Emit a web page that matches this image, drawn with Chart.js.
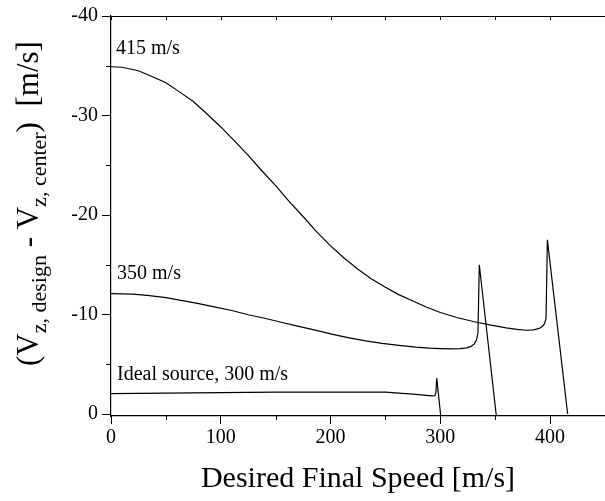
<!DOCTYPE html>
<html>
<head>
<meta charset="utf-8">
<script src="https://cdn.jsdelivr.net/npm/chart.js@4/dist/chart.umd.min.js"></script>
<style>
  html, body { margin: 0; padding: 0; background: #fff; }
  #wrap { width: 605px; height: 501px; }
</style>
</head>
<body>
<div id="wrap"><canvas id="c"></canvas></div>
<script>
// values (x: desired final speed, y: velocity difference)
const x415 = [0, 10, 25, 40, 50, 62, 75, 87, 100, 112, 125, 137, 150, 162, 175, 187, 200, 212, 225, 237, 250, 262, 275, 287, 300, 315, 330, 345, 360, 370, 378, 385, 390, 393, 395, 396.3, 397.5, 416];
const y415 = [-34.9, -34.85, -34.5, -33.8, -33.3, -32.4, -31.4, -30.2, -28.85, -27.5, -26.0, -24.5, -22.95, -21.4, -19.85, -18.35, -16.9, -15.7, -14.55, -13.6, -12.75, -12.0, -11.35, -10.75, -10.2, -9.7, -9.3, -8.95, -8.65, -8.5, -8.42, -8.45, -8.6, -8.8, -9.1, -9.6, -17.5, 0];

const x350 = [0, 20, 35, 50, 65, 80, 95, 110, 126, 141, 156, 171, 187, 202, 217, 232, 247, 262, 278, 290, 300, 310, 318, 324, 328, 331, 333, 334.3, 335.5, 351];
const y350 = [-12.1, -12.05, -11.9, -11.7, -11.4, -11.1, -10.75, -10.4, -9.95, -9.6, -9.2, -8.8, -8.4, -8.0, -7.65, -7.35, -7.1, -6.9, -6.72, -6.63, -6.58, -6.55, -6.57, -6.65, -6.8, -7.05, -7.45, -8.2, -15, 0.2];

const x300 = [0, 50, 100, 150, 200, 250, 262, 275, 285, 292, 295, 296, 296.7, 300.5];
const y300 = [-2.05, -2.1, -2.15, -2.2, -2.2, -2.2, -2.1, -2.0, -1.9, -1.82, -1.85, -2.2, -3.6, 0.3];

const xTicks = [0, 100, 200, 300, 400];
const yTicks = [-40, -30, -20, -10, 0];
const xMinor = [50, 150, 250, 350];
const yMinor = [-35, -25, -15, -5];

const labelText = ['415 m/s', '350 m/s', 'Ideal source, 300 m/s'];
const labelX = [4.5, 5.5, 5.5];
const labelY = [-36.2, -13.6, -3.4];

const serif = '"Liberation Serif", "DejaVu Serif", serif';
const pts = (xs, ys) => xs.map((v, i) => ({ x: v, y: ys[i] }));

function line(data) {
  return {
    data, showLine: true, borderColor: '#000', borderWidth: 1.2,
    pointRadius: 0, tension: 0, fill: false
  };
}

// minor ticks, top frame, curve labels and the y title with subscripts
const decor = {
  id: 'decor',
  afterDraw(chart) {
    const { ctx, chartArea: a, scales: { x, y } } = chart;
    ctx.save();
    ctx.strokeStyle = '#000';
    ctx.lineWidth = 1.2;
    ctx.beginPath();
    ctx.moveTo(a.left, a.top + 0.5);
    ctx.lineTo(a.right, a.top + 0.5);
    ctx.stroke();
    ctx.lineWidth = 1;
    ctx.beginPath();
    for (let v = 0; v < 450; v += 50) {
      const px = Math.round(x.getPixelForValue(v)) + 0.5;
      ctx.moveTo(px, a.top); ctx.lineTo(px, a.top + 4);
    }
    xMinor.forEach(v => {
      const px = Math.round(x.getPixelForValue(v)) + 0.5;
      ctx.moveTo(px, a.bottom); ctx.lineTo(px, a.bottom + 4);
    });
    yMinor.forEach(v => {
      const py = Math.round(y.getPixelForValue(v)) + 0.5;
      ctx.moveTo(a.left, py); ctx.lineTo(a.left - 5, py);
    });
    ctx.stroke();

    ctx.fillStyle = '#000';
    ctx.font = '20px ' + serif;
    ctx.textAlign = 'left';
    ctx.textBaseline = 'alphabetic';
    labelText.forEach((t, i) => {
      ctx.fillText(t, x.getPixelForValue(labelX[i]), y.getPixelForValue(labelY[i]));
    });

    // y axis title, rotated, with subscripts
    const big = '31px ' + serif, small = '22px ' + serif;
    const parts = [
      ['(V', big, 0], ['z, design', small, 8], [' - V', big, 0],
      ['z, center', small, 8], [')', big, 0], ['  [m/s]', big, 0]
    ];
    ctx.translate(38, 366);
    ctx.rotate(-Math.PI / 2);
    let pos = 0;
    parts.forEach(([t, f, dy]) => {
      ctx.font = f;
      ctx.fillText(t, pos, dy);
      pos += ctx.measureText(t).width;
    });
    ctx.restore();
  }
};

new Chart(document.getElementById('c'), {
  type: 'scatter',
  data: {
    datasets: [line(pts(x415, y415)), line(pts(x350, y350)), line(pts(x300, y300))]
  },
  options: {
    responsive: true,
    maintainAspectRatio: false,
    animation: false,
    layout: { padding: { top: 15, left: 0, right: 0, bottom: 0 } },
    plugins: { legend: { display: false }, tooltip: { enabled: false } },
    scales: {
      x: {
        type: 'linear', min: 0, max: 450,
        afterBuildTicks: s => { s.ticks = xTicks.map(v => ({ value: v })); },
        afterFit: s => { s.height = 85; },
        ticks: { color: '#000', font: { family: serif, size: 20 }, padding: 2, maxRotation: 0, autoSkip: false },
        grid: { drawOnChartArea: false, tickLength: 8, color: '#000', tickWidth: 1 },
        border: { display: true, color: '#000', width: 1.2 },
        title: {
          display: true, text: 'Desired Final Speed [m/s]', color: '#000',
          font: { family: serif, size: 30 }, padding: { top: 4, bottom: 4 }
        }
      },
      y: {
        type: 'linear', min: -40, max: 0.2, reverse: true,
        afterBuildTicks: s => { s.ticks = yTicks.map(v => ({ value: v })); },
        afterFit: s => { s.width = 111; },
        ticks: { color: '#000', font: { family: serif, size: 20 }, padding: 4, autoSkip: false },
        grid: { drawOnChartArea: false, tickLength: 9, color: '#000', tickWidth: 1 },
        border: { display: true, color: '#000', width: 1.2 }
      }
    }
  },
  plugins: [decor]
});
</script>
</body>
</html>
